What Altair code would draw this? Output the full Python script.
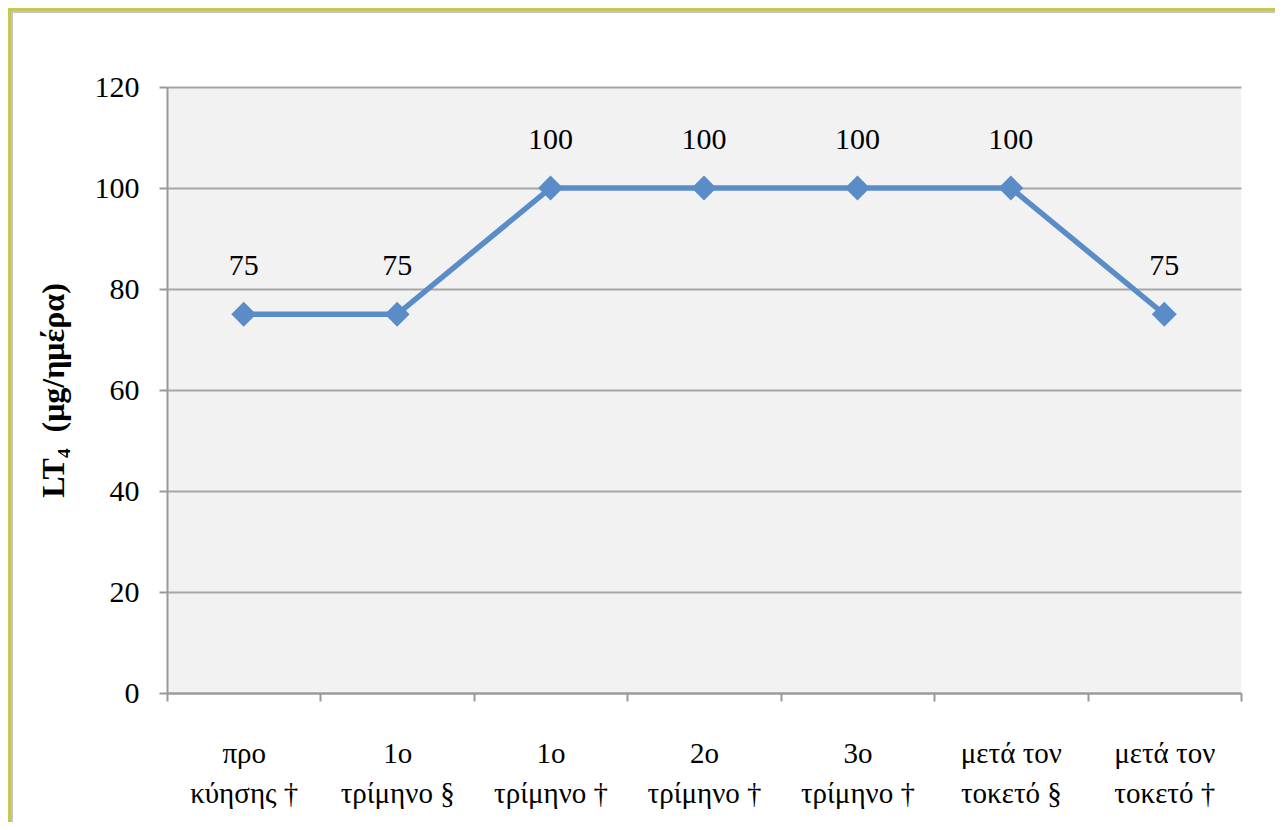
import altair as alt
import pandas as pd

categories = [
    "προ\nκύησης †",
    "1ο\nτρίμηνο §",
    "1ο\nτρίμηνο †",
    "2ο\nτρίμηνο †",
    "3ο\nτρίμηνο †",
    "μετά τον\nτοκετό §",
    "μετά τον\nτοκετό †",
]
values = [75, 75, 100, 100, 100, 100, 75]
y_ticks = [0, 20, 40, 60, 80, 100, 120]

df = pd.DataFrame({"cat": categories, "val": values})

FONT = "Liberation Serif"
LINE_COLOR = "#5a8dc8"
GRID = "#a6a6a6"

x_enc = alt.X(
    "cat:N",
    sort=categories,
    scale=alt.Scale(type="band", paddingInner=0, paddingOuter=0),
    axis=alt.Axis(
        title=None,
        labelExpr="split(datum.label, '\\n')",
        labelAngle=0,
        labelFont=FONT,
        labelFontSize=29,
        labelColor="#000000",
        labelLineHeight=40,
        labelPadding=52,
        labelBaseline="middle",
        tickBand="extent",
        tickSize=8,
        tickColor="#999999",
        tickWidth=2,
        domainColor="#999999",
        domainWidth=2,
        grid=False,
    ),
)

y_enc = alt.Y(
    "val:Q",
    scale=alt.Scale(domain=[0, 120], nice=False),
    axis=alt.Axis(
        values=y_ticks,
        title="LT₄\u00a0\u00a0(μg/ημέρα)",
        titleFont=FONT,
        titleFontSize=32,
        titleFontWeight="bold",
        titleColor="#000000",
        titleAngle=-90,
        titleX=-114,
        titleY=303,
        titleAlign="center",
        titleBaseline="middle",
        labelFont=FONT,
        labelFontSize=30,
        labelColor="#000000",
        labelPadding=20,
        tickSize=8,
        tickColor="#999999",
        tickWidth=2,
        domainColor="#999999",
        domainWidth=2,
        grid=True,
        gridColor=GRID,
        gridWidth=2,
    ),
)

base = alt.Chart(df)

line = base.mark_line(color=LINE_COLOR, strokeWidth=5.5).encode(x=x_enc, y=y_enc)
pts = base.mark_point(
    shape="diamond", filled=True, size=620, color=LINE_COLOR, opacity=1
).encode(x=x_enc, y=y_enc)
labels = base.mark_text(
    font=FONT, fontSize=30, color="#000000", dy=-48, baseline="middle"
).encode(x=x_enc, y=y_enc, text="val:Q")

# decorative outer frame (left and top edges only, like the cropped reference)
left_outer = alt.Chart(df).mark_rule(stroke="#c8c850", strokeWidth=2.5, clip=False).encode(
    x=alt.value(-158), y=alt.value(-79), y2=alt.value(735)
)
top_outer = alt.Chart(df).mark_rule(stroke="#c8c850", strokeWidth=2.5, clip=False).encode(
    x=alt.value(-159), x2=alt.value(1108), y=alt.value(-78)
)
left_inner = alt.Chart(df).mark_rule(stroke="#c4c4c4", strokeWidth=2, clip=False).encode(
    x=alt.value(-155.5), y=alt.value(-76.5), y2=alt.value(735)
)
top_inner = alt.Chart(df).mark_rule(stroke="#c4c4c4", strokeWidth=2, clip=False).encode(
    x=alt.value(-156.5), x2=alt.value(1108), y=alt.value(-75.5)
)

chart = (
    alt.layer(line, pts, labels, left_inner, top_inner, left_outer, top_outer)
    .properties(width=1074, height=606, background="#ffffff",
                autosize=alt.AutoSizeParams(type="none"),
                padding={"left": 159, "top": 79, "right": 34, "bottom": 129})
    .configure(font=FONT)
    .configure_axis(labelFont=FONT, titleFont=FONT)
    .configure_text(font=FONT)
    .configure_view(fill="#f2f2f2", stroke=None)
)

chart.save("out.html", embed_options={"renderer": "svg", "actions": False})
